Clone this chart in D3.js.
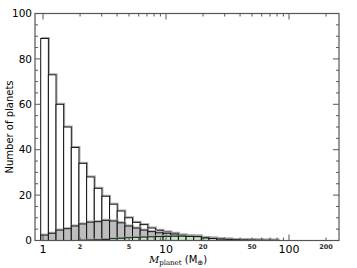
<!DOCTYPE html>
<html>
<head>
<meta charset="utf-8">
<script src="https://cdn.jsdelivr.net/npm/d3@7"></script>
<style>
  body { margin: 0; background: #fff; }
  svg { display: block; font-family: "DejaVu Sans", sans-serif; }
</style>
</head>
<body>
<div id="chart"></div>
<script>
// Bin edges (Earth masses, log spaced)
const binEdges = [0.957, 1.105, 1.275, 1.471, 1.697, 1.959, 2.261, 2.609, 3.010, 3.474,
  4.009, 4.626, 5.338, 6.160, 7.109, 8.204, 9.467, 10.92, 12.61, 14.55,
  16.79, 19.37, 22.36, 25.80, 29.77, 34.36, 39.65, 45.75, 52.80, 60.93, 70.31, 81.14];

// Counts per bin
const allPlanets = [89, 73, 60, 50, 41, 34, 28, 23, 19.5, 16, 13, 10, 8, 7, 5.5, 4.5,
  3.8, 3.2, 2.5, 2.1, 2.0, 1.3, 1.1, 0.7, 0.6, 0.4, 0.3, 0.25, 0.2, 0.15, 0.1];
const grayPlanets = [2.4, 3.2, 4.6, 5.2, 6.4, 7.3, 8.1, 8.3, 8.9, 8.6, 7.8, 6.4, 5.5, 4.6, 3.9, 3.4,
  3.2, 2.8, 2.3, 2.0, 1.9, 1.2, 1.0, 0.7, 0.6, 0.4, 0.3, 0.25, 0.2, 0.15, 0.1];
const greenPlanets = [0, 0, 0, 0, 0, 0.1, 0.2, 0.3, 0.5, 0.8, 1.0, 1.2, 1.4, 1.5, 1.6, 1.7,
  1.8, 1.9, 1.9, 1.8, 1.7, 1.1, 0.9, 0.6, 0.5, 0.35, 0.25, 0.2, 0.15, 0.1, 0.1];

const majorX = [1, 10, 100];
const minorLabelX = [2, 5, 20, 50, 200];
const yTicks = [0, 20, 40, 60, 80, 100];

// Dimensions
const width = 357;
const height = 268;
const margin = {top: 13.5, right: 18, bottom: 27.5, left: 35};
const innerW = width - margin.left - margin.right;
const innerH = height - margin.top - margin.bottom;

const x = d3.scaleLog().domain([0.86, 255]).range([0, innerW]);
const y = d3.scaleLinear().domain([0, 100]).range([innerH, 0]);

const svg = d3.select("#chart")
  .append("svg")
    .attr("width", width)
    .attr("height", height);

const g = svg.append("g")
  .attr("transform", `translate(${margin.left},${margin.top})`);

const bins = allPlanets.map((d, i) => ({x0: binEdges[i], x1: binEdges[i + 1]}));

// Draw one histogram layer
const drawLayer = (values, fill, cls) => {
  const layer = g.append("g").attr("class", cls);
  // faint shadow outline
  layer.selectAll(".shadow")
    .data(values)
    .join("rect")
      .attr("class", "shadow")
      .attr("x", (d, i) => x(bins[i].x0) + 1)
      .attr("y", d => y(d) - 1)
      .attr("width", (d, i) => x(bins[i].x1) - x(bins[i].x0))
      .attr("height", d => y(0) - y(d))
      .attr("fill", "none")
      .attr("stroke", "#a8a8a8")
      .attr("stroke-width", 1);
  layer.selectAll(".bar")
    .data(values)
    .join("rect")
      .attr("class", "bar")
      .attr("x", (d, i) => x(bins[i].x0))
      .attr("y", d => y(d))
      .attr("width", (d, i) => x(bins[i].x1) - x(bins[i].x0))
      .attr("height", d => y(0) - y(d))
      .attr("fill", fill)
      .attr("stroke", "#111")
      .attr("stroke-width", 1);
};

drawLayer(allPlanets, "#ffffff", "all");
drawLayer(grayPlanets, "#bdbdbd", "gray");
drawLayer(greenPlanets, "#c4e4c4", "green");

// Frame
g.append("rect")
  .attr("width", innerW)
  .attr("height", innerH)
  .attr("fill", "none")
  .attr("stroke", "#555")
  .attr("stroke-width", 1.2);

// X ticks (bottom and top, inward)
const minorX = [];
[1, 10, 100].forEach(dec => {
  for (let k = 2; k <= 9; k++) if (dec * k <= 255) minorX.push(dec * k);
});
const ticks = g.append("g").attr("stroke", "#555").attr("stroke-width", 1);
majorX.forEach(v => {
  ticks.append("line").attr("x1", x(v)).attr("x2", x(v)).attr("y1", innerH).attr("y2", innerH - 6);
  ticks.append("line").attr("x1", x(v)).attr("x2", x(v)).attr("y1", 0).attr("y2", 6);
});
minorX.forEach(v => {
  ticks.append("line").attr("x1", x(v)).attr("x2", x(v)).attr("y1", innerH).attr("y2", innerH - 3);
  ticks.append("line").attr("x1", x(v)).attr("x2", x(v)).attr("y1", 0).attr("y2", 3);
});

// Y ticks (left and right, inward)
d3.range(0, 101, 5).forEach(v => {
  const len = v % 20 === 0 ? 6 : 3;
  ticks.append("line").attr("x1", 0).attr("x2", len).attr("y1", y(v)).attr("y2", y(v));
  ticks.append("line").attr("x1", innerW).attr("x2", innerW - len).attr("y1", y(v)).attr("y2", y(v));
});

// Tick labels
g.append("g")
  .selectAll("text")
  .data(yTicks)
  .join("text")
    .attr("x", -3)
    .attr("y", d => y(d))
    .attr("dy", "0.35em")
    .attr("text-anchor", "end")
    .attr("font-size", 10.5)
    .attr("fill", "#000")
    .text(d => d);

g.append("g")
  .selectAll("text")
  .data(majorX)
  .join("text")
    .attr("x", d => x(d))
    .attr("y", innerH + 12)
    .attr("text-anchor", "middle")
    .attr("font-size", 11)
    .attr("fill", "#000")
    .text(d => d);

g.append("g")
  .selectAll("text")
  .data(minorLabelX)
  .join("text")
    .attr("x", d => x(d))
    .attr("y", innerH + 8.5)
    .attr("text-anchor", "middle")
    .attr("font-size", 6.5)
    .attr("font-weight", "bold")
    .attr("fill", "#333")
    .text(d => d);

// Axis titles
svg.append("text")
  .attr("transform", `translate(13,${margin.top + innerH / 2}) rotate(-90)`)
  .attr("text-anchor", "middle")
  .attr("font-size", 10)
  .text("Number of planets");

const xTitle = svg.append("text")
  .attr("x", 178)
  .attr("y", 263)
  .attr("text-anchor", "middle")
  .attr("font-size", 10);
xTitle.append("tspan")
  .attr("font-family", "DejaVu Serif, serif")
  .attr("font-style", "italic")
  .text("M");
xTitle.append("tspan")
  .attr("font-family", "DejaVu Serif, serif")
  .attr("font-size", 7)
  .attr("dy", 2)
  .text("planet");
xTitle.append("tspan")
  .attr("dy", -2)
  .text(" (M");
xTitle.append("tspan")
  .attr("font-size", 7)
  .attr("dy", 2)
  .text("⊕");
xTitle.append("tspan")
  .attr("dy", -2)
  .text(")");
</script>
</body>
</html>
